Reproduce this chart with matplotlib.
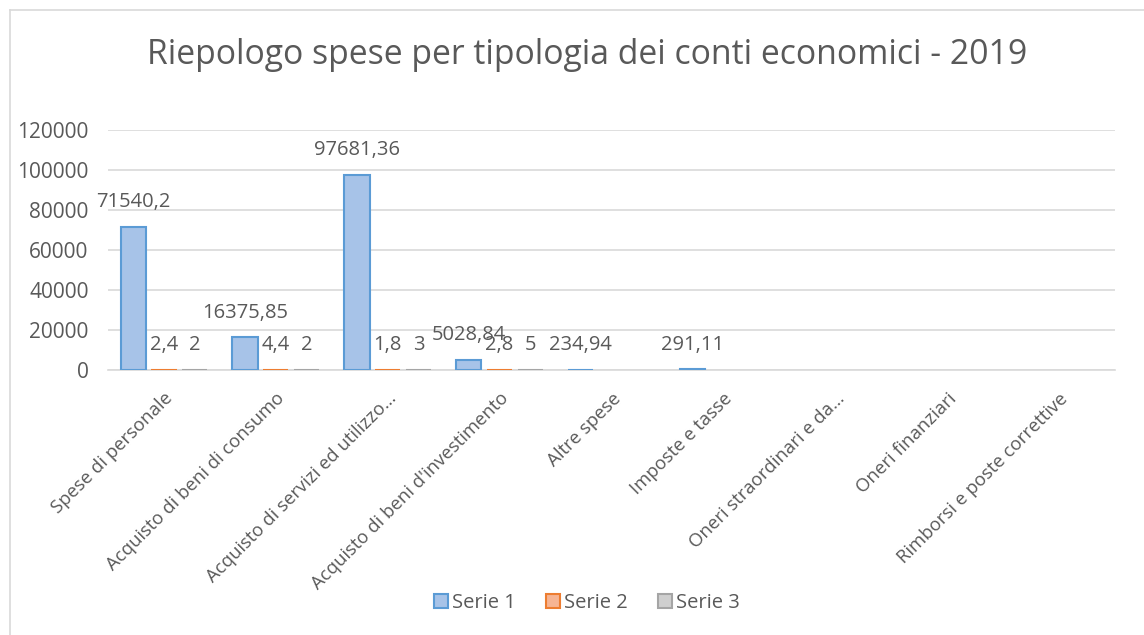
import matplotlib
matplotlib.use("Agg")
import matplotlib.pyplot as plt
import numpy as np
from matplotlib.lines import Line2D
from matplotlib.patches import Patch

categories = ["Spese di personale", "Acquisto di beni di consumo",
              "Acquisto di servizi ed utilizzo…", "Acquisto di beni d'investimento",
              "Altre spese", "Imposte e tasse", "Oneri straordinari e da…",
              "Oneri finanziari", "Rimborsi e poste correttive"]
serie1 = [71540.2, 16375.85, 97681.36, 5028.84, 234.94, 291.11, np.nan, np.nan, np.nan]
serie2 = [2.4, 4.4, 1.8, 2.8, np.nan, np.nan, np.nan, np.nan, np.nan]
serie3 = [2, 2, 3, 5, np.nan, np.nan, np.nan, np.nan, np.nan]
series_names = ["Serie 1", "Serie 2", "Serie 3"]
yticks = [0, 20000, 40000, 60000, 80000, 100000, 120000]
title = "Riepologo spese per tipologia dei conti economici - 2019"

plt.rcParams['font.family'] = ['Open Sans', 'DejaVu Sans']
txt = '#595959'
fills = ['#A7C3E8', '#F6B493', '#CFCFCF']
edges = ['#5B9BD5', '#ED7D31', '#A5A5A5']


def fmt(v):
    if float(v).is_integer():
        return str(int(v))
    return repr(round(float(v), 2)).replace('.', ',')


fig = plt.figure(figsize=(11.44, 6.35), dpi=100)
ax = fig.add_axes([108/1144, 1-370/635, (1115-108)/1144, 240/635])

x = np.arange(len(categories))
w = 0.225
step = 0.275
for i, data in enumerate([serie1, serie2, serie3]):
    vals = np.array(data, dtype=float)
    mask = ~np.isnan(vals)
    pos = (x + (i-1)*step)[mask]
    ax.bar(pos, vals[mask], width=w, color=fills[i], edgecolor=edges[i], linewidth=1.5, zorder=3)
    for p, v in zip(pos, vals[mask]):
        ax.annotate(fmt(v), (p, v), xytext=(0, 10.5), textcoords='offset points',
                    ha='center', va='bottom', fontsize=14.5, color=txt)

ax.set_xlim(-0.5, len(categories)-0.5)
ax.set_ylim(0, 120000)
ax.set_yticks(yticks)
ax.set_yticklabels([str(t) for t in yticks], fontsize=15, color=txt)
ax.grid(axis='y', color='#D9D9D9', linewidth=1.2, zorder=0)
ax.set_axisbelow(True)
for s in ['top', 'right', 'left']:
    ax.spines[s].set_visible(False)
ax.spines['bottom'].set_color('#D9D9D9')
ax.spines['bottom'].set_linewidth(1.2)
ax.tick_params(axis='y', length=0, pad=14)
ax.tick_params(axis='x', length=0, pad=14)
ax.set_xticks(x)
ax.set_xticklabels(categories, rotation=45, ha='right', rotation_mode='anchor',
                   fontsize=13.3, color=txt)

fig.text(587/1144, 1-55/635, title, ha='center', va='center', fontsize=24.3, color=txt)

handles = [Patch(facecolor=fills[i], edgecolor=edges[i], linewidth=1.5) for i in range(3)]
fig.legend(handles, series_names, loc='center', bbox_to_anchor=(587/1144, 1-603/635),
           ncol=3, frameon=False, fontsize=14.5, labelcolor=txt,
           handlelength=0.7, handleheight=0.7, handletextpad=0.2, columnspacing=1.5)

fig.add_artist(Line2D([10/1144, 10/1144], [0, 1-10/635], color='#D9D9D9', linewidth=1.2))
fig.add_artist(Line2D([10/1144, 1], [1-10/635, 1-10/635], color='#D9D9D9', linewidth=1.2))

fig.savefig('out.png', dpi=100)
